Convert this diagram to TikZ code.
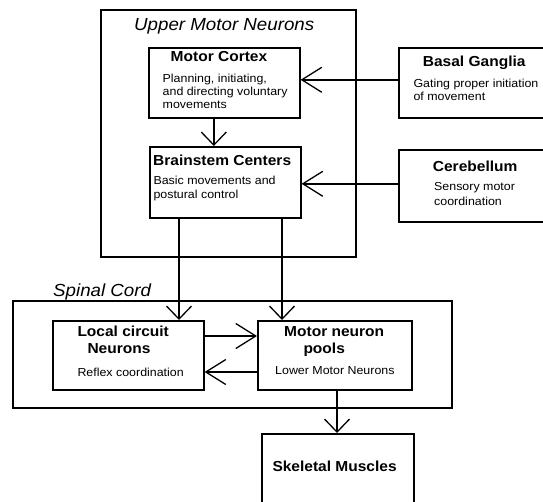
\documentclass[tikz,border=0pt]{standalone}
\usepackage{fontspec}
\setmainfont[FakeStretch=1.07]{Liberation Sans}
\usetikzlibrary{arrows.meta}
\begin{document}
\begin{tikzpicture}[x=1pt,y=-1pt,
  box/.style={draw,line width=1.6pt,inner sep=0pt,anchor=north west},
  con/.style={line width=1.4pt},
  varr/.style={con,-{Straight Barb[length=13pt,width=25pt,line width=1.3pt]}},
  harr/.style={con,-{Straight Barb[length=20pt,width=25pt,line width=1.3pt]}},
  ttl/.style={font=\fontsize{17.5}{20}\selectfont\itshape,inner sep=0pt,anchor=base west},
  hd/.style={font=\fontsize{14.5}{17}\selectfont\bfseries,inner sep=0pt,anchor=base west},
  bd/.style={font=\fontsize{11.6}{14}\selectfont,inner sep=0pt,anchor=base west}
]
\clip (0,0) rectangle (543,501);
\fill[white] (0,0) rectangle (543,501);
% containers
\node[box,minimum width=255pt,minimum height=247pt] (umn) at (100,9) {};
\node[box,minimum width=439pt,minimum height=107pt] (sc) at (12,300) {};
% boxes
\node[box,minimum width=151pt,minimum height=70pt] (mc) at (148,47) {};
\node[box,minimum width=151pt,minimum height=71pt] (bs) at (149,146) {};
\node[box,minimum width=150pt,minimum height=70pt] (bg) at (398,47) {};
\node[box,minimum width=150pt,minimum height=72pt] (cer) at (398,149) {};
\node[box,minimum width=151pt,minimum height=69pt] (lc) at (52,320) {};
\node[box,minimum width=154pt,minimum height=69pt] (mnp) at (257,320) {};
\node[box,minimum width=152pt,minimum height=80pt] (sk) at (261,433) {};
% texts
\node[ttl] (umnt) at (134,30) {Upper Motor Neurons};
\node[ttl] (sct) at (53,296) {Spinal Cord};
\node[hd] (mct) at (170.5,61.5) {Motor Cortex};
\node[bd] (mc1) at (162.5,82.7) {Planning, initiating,};
\node[bd] (mc2) at (162.5,95.7) {and directing voluntary};
\node[bd] (mc3) at (162.5,108.5) {movements};
\node[hd] (bst) at (153,165) {Brainstem Centers};
\node[bd] (bs1) at (153.3,184) {Basic movements and};
\node[bd] (bs2) at (153.3,198.3) {postural control};
\node[hd] (bgt) at (422.7,66) {Basal Ganglia};
\node[bd] (bg1) at (413.3,87) {Gating proper initiation};
\node[bd] (bg2) at (413.3,100) {of movement};
\node[hd] (cert) at (432.7,171) {Cerebellum};
\node[bd] (cer1) at (434,190.7) {Sensory motor};
\node[bd] (cer2) at (434,205) {coordination};
\node[hd] (lct1) at (77.3,336.7) {Local circuit};
\node[hd] (lct2) at (87.3,353.3) {Neurons};
\node[bd] (lc1) at (77.3,376) {Reflex coordination};
\node[hd] (mnpt1) at (284,336.7) {Motor neuron};
\node[hd] (mnpt2) at (303.3,353.3) {pools};
\node[bd] (mnp1) at (275,374) {Lower Motor Neurons};
\node[hd] (skt) at (272.3,471.7) {Skeletal Muscles};
% connectors
\draw[harr] ([yshift=3pt]bg.west) coordinate (a1) -- (a1 -| mc.east);
\draw[harr] ([yshift=2pt]cer.west) coordinate (a2) -- (a2 -| bs.east);
\draw[varr] ([xshift=-10.5pt]mc.south) coordinate (a3) -- (a3 |- bs.north);
\draw[varr] ([xshift=30pt]bs.south west) coordinate (a4) -- (a4 |- lc.north);
\draw[varr] ([xshift=133pt]bs.south west) coordinate (a5) -- (a5 |- mnp.north);
\draw[harr] ([yshift=-16pt]lc.north east) coordinate (a6) -- (a6 -| mnp.west);
\draw[harr] ([yshift=-52pt]mnp.north west) coordinate (a7) -- (a7 -| lc.east);
\draw[varr] ([xshift=80pt]mnp.south west) coordinate (a8) -- (a8 |- sk.north);
\end{tikzpicture}
\end{document}
